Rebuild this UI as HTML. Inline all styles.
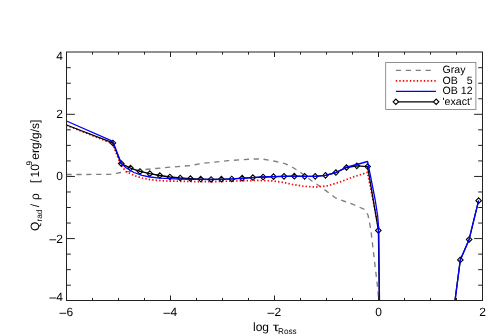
<!DOCTYPE html>
<html><head><meta charset="utf-8"><title>plot</title>
<style>
html,body{margin:0;padding:0;background:#fff;}
body{width:498px;height:336px;overflow:hidden;position:relative;font-family:"Liberation Sans",sans-serif;}
svg{position:absolute;left:0;top:0;display:block;}
text{text-rendering:geometricPrecision;}
text{font-family:"Liberation Sans",sans-serif;fill:#000;}
</style></head><body>
<svg width="498" height="336" viewBox="0 0 498 336" style="will-change:transform">
<rect x="0" y="0" width="498" height="336" fill="#fff"/>
<defs><clipPath id="c"><rect x="66.5" y="52" width="416" height="248.5"/></clipPath></defs>

<g clip-path="url(#c)" fill="none" stroke-linejoin="round">
<path d="M66.5,174.5 L110.0,174.4 L121.0,172.5 L130.0,171.3 L150.0,169.0 L170.0,167.2 L190.0,165.6 L204.0,163.1 L228.0,160.7 L252.0,159.0 L262.0,159.0 L276.0,161.5 L285.0,163.6 L292.0,167.0 L300.0,172.0 L304.0,175.0 L312.0,181.0 L321.0,187.0 L335.4,197.8 L345.0,201.5 L352.3,204.0 L364.6,209.5 L368.0,215.0 L370.7,228.8 L377.2,284.0 L378.8,300.6" stroke="#7f7f7f" stroke-width="1.35" stroke-dasharray="5.2 4.7"/>
<path d="M66.5,125.2 L112.6,143.7 L120.8,165.2 L126.0,171.4 L134.0,175.5 L142.0,178.0 L150.0,179.6 L160.0,180.6 L170.0,181.1 L180.0,181.3 L190.0,181.5 L211.0,181.7 L228.0,181.2 L242.6,180.8 L257.0,180.4 L271.6,180.8 L283.6,182.5 L292.0,184.3 L304.0,186.3 L316.0,187.1 L328.2,185.7 L340.2,181.9 L352.3,177.3 L366.0,172.9 L367.4,172.4 L379.1,230.0" stroke="#ff0000" stroke-width="1.7" stroke-dasharray="1.4 2.1"/>
<path d="M66.5,125.0 L112.9,142.9 L121.2,163.5 L130.5,168.1 L140.0,171.4 L149.8,173.7 L159.8,175.5 L169.9,177.0 L180.2,178.0 L190.4,178.6 L200.7,179.1 L211.1,179.4 L221.4,179.2 L231.8,178.9 L242.2,178.2 L252.8,177.6 L263.1,177.0 L273.5,176.7 L284.0,176.3 L294.3,176.2 L304.6,176.3 L315.2,176.3 L325.5,175.3 L335.9,172.6 L346.5,167.5 L356.8,165.8 L367.6,166.6 L378.4,230.4 L379.3,300.6" stroke="#000" stroke-width="1.3"/>
<path d="M455.0,300.6 L460.3,259.9 L469.1,239.4 L478.6,200.7" stroke="#000" stroke-width="1.3"/>
</g>
<g fill="none" stroke="#000" stroke-width="1.1">
<path d="M110.2,142.9 L112.9,140.2 L115.7,142.9 L112.9,145.7 Z"/>
<path d="M118.5,163.5 L121.2,160.8 L124.0,163.5 L121.2,166.2 Z"/>
<path d="M127.8,168.1 L130.5,165.3 L133.2,168.1 L130.5,170.8 Z"/>
<path d="M137.2,171.4 L140.0,168.7 L142.8,171.4 L140.0,174.2 Z"/>
<path d="M147.1,173.7 L149.8,170.9 L152.6,173.7 L149.8,176.4 Z"/>
<path d="M157.1,175.5 L159.8,172.8 L162.6,175.5 L159.8,178.2 Z"/>
<path d="M167.2,177.0 L169.9,174.2 L172.7,177.0 L169.9,179.8 Z"/>
<path d="M177.4,178.0 L180.2,175.2 L182.9,178.0 L180.2,180.8 Z"/>
<path d="M187.7,178.6 L190.4,175.8 L193.2,178.6 L190.4,181.3 Z"/>
<path d="M197.9,179.1 L200.7,176.3 L203.4,179.1 L200.7,181.8 Z"/>
<path d="M208.3,179.4 L211.1,176.7 L213.8,179.4 L211.1,182.2 Z"/>
<path d="M218.7,179.2 L221.4,176.4 L224.2,179.2 L221.4,181.9 Z"/>
<path d="M229.1,178.9 L231.8,176.2 L234.6,178.9 L231.8,181.7 Z"/>
<path d="M239.4,178.2 L242.2,175.4 L244.9,178.2 L242.2,180.9 Z"/>
<path d="M250.1,177.6 L252.8,174.8 L255.6,177.6 L252.8,180.3 Z"/>
<path d="M260.4,177.0 L263.1,174.2 L265.9,177.0 L263.1,179.8 Z"/>
<path d="M270.8,176.7 L273.5,173.9 L276.2,176.7 L273.5,179.4 Z"/>
<path d="M281.2,176.3 L284.0,173.6 L286.8,176.3 L284.0,179.1 Z"/>
<path d="M291.6,176.2 L294.3,173.4 L297.1,176.2 L294.3,178.9 Z"/>
<path d="M301.9,176.3 L304.6,173.6 L307.4,176.3 L304.6,179.1 Z"/>
<path d="M312.4,176.3 L315.2,173.6 L317.9,176.3 L315.2,179.1 Z"/>
<path d="M322.8,175.3 L325.5,172.6 L328.2,175.3 L325.5,178.1 Z"/>
<path d="M333.1,172.6 L335.9,169.8 L338.6,172.6 L335.9,175.3 Z"/>
<path d="M343.8,167.5 L346.5,164.8 L349.2,167.5 L346.5,170.2 Z"/>
<path d="M354.1,165.8 L356.8,163.1 L359.6,165.8 L356.8,168.6 Z"/>
<path d="M364.9,166.6 L367.6,163.8 L370.4,166.6 L367.6,169.3 Z"/>
<path d="M375.6,230.4 L378.4,227.7 L381.1,230.4 L378.4,233.2 Z"/>
<path d="M457.6,259.9 L460.3,257.1 L463.1,259.9 L460.3,262.6 Z"/>
<path d="M466.4,239.4 L469.1,236.7 L471.9,239.4 L469.1,242.2 Z"/>
<path d="M475.9,200.7 L478.6,197.9 L481.4,200.7 L478.6,203.4 Z"/>
</g>
<g clip-path="url(#c)" fill="none" stroke-linejoin="round">
<path d="M66.5,121.0 L112.9,141.4 L121.2,163.2 L126.0,167.7 L134.0,172.5 L142.0,175.4 L150.0,177.0 L160.0,178.1 L170.0,178.7 L180.0,179.1 L190.0,179.3 L200.7,179.4 L211.0,179.5 L221.0,179.3 L232.0,178.9 L242.0,178.3 L252.8,177.6 L263.1,177.0 L273.5,176.7 L284.0,176.3 L294.3,176.2 L304.6,176.3 L315.2,176.3 L325.5,175.3 L335.9,172.5 L346.5,167.2 L356.8,164.5 L367.6,161.5 L375.2,200.0 L377.7,216.0 L378.5,227.0 L378.8,233.0 L379.5,300.6" stroke="#0000ff" stroke-width="1.3"/>
<path d="M455.0,300.6 L460.3,259.9 L469.1,239.4 L478.6,200.7" stroke="#0000ff" stroke-width="1.3"/>
</g>
<g stroke="#222" stroke-width="1" fill="none">
<rect x="66.5" y="52.0" width="416.0" height="248.5"/>
<path d="M92.5,300.5 v-2.6 M92.5,52.0 v2.6"/>
<path d="M66.5,285.19 h4.3 M482.5,285.19 h-4.3"/>
<path d="M118.5,300.5 v-2.6 M118.5,52.0 v2.6"/>
<path d="M66.5,269.66 h4.3 M482.5,269.66 h-4.3"/>
<path d="M144.5,300.5 v-2.6 M144.5,52.0 v2.6"/>
<path d="M66.5,254.12 h4.3 M482.5,254.12 h-4.3"/>
<path d="M170.5,300.5 v-5.0 M170.5,52.0 v5.0"/>
<path d="M66.5,238.59 h8.4 M482.5,238.59 h-8.4"/>
<path d="M196.5,300.5 v-2.6 M196.5,52.0 v2.6"/>
<path d="M66.5,223.06 h4.3 M482.5,223.06 h-4.3"/>
<path d="M222.5,300.5 v-2.6 M222.5,52.0 v2.6"/>
<path d="M66.5,207.52 h4.3 M482.5,207.52 h-4.3"/>
<path d="M248.5,300.5 v-2.6 M248.5,52.0 v2.6"/>
<path d="M66.5,191.98 h4.3 M482.5,191.98 h-4.3"/>
<path d="M274.5,300.5 v-5.0 M274.5,52.0 v5.0"/>
<path d="M66.5,176.45 h8.4 M482.5,176.45 h-8.4"/>
<path d="M300.5,300.5 v-2.6 M300.5,52.0 v2.6"/>
<path d="M66.5,160.91 h4.3 M482.5,160.91 h-4.3"/>
<path d="M326.5,300.5 v-2.6 M326.5,52.0 v2.6"/>
<path d="M66.5,145.38 h4.3 M482.5,145.38 h-4.3"/>
<path d="M352.5,300.5 v-2.6 M352.5,52.0 v2.6"/>
<path d="M66.5,129.84 h4.3 M482.5,129.84 h-4.3"/>
<path d="M378.5,300.5 v-5.0 M378.5,52.0 v5.0"/>
<path d="M66.5,114.31 h8.4 M482.5,114.31 h-8.4"/>
<path d="M404.5,300.5 v-2.6 M404.5,52.0 v2.6"/>
<path d="M66.5,98.77 h4.3 M482.5,98.77 h-4.3"/>
<path d="M430.5,300.5 v-2.6 M430.5,52.0 v2.6"/>
<path d="M66.5,83.24 h4.3 M482.5,83.24 h-4.3"/>
<path d="M456.5,300.5 v-2.6 M456.5,52.0 v2.6"/>
<path d="M66.5,67.70 h4.3 M482.5,67.70 h-4.3"/>
</g>
<g font-size="12">
<text x="66.4" y="316.1">6</text><path d="M59.50,313.30 H66.20" stroke="#111" stroke-width="0.95" fill="none"/>
<text x="170.4" y="316.1">4</text><path d="M163.50,313.30 H170.20" stroke="#111" stroke-width="0.95" fill="none"/>
<text x="274.4" y="316.1">2</text><path d="M267.50,313.30 H274.20" stroke="#111" stroke-width="0.95" fill="none"/>
<text x="378.5" y="316.1" text-anchor="middle">0</text>
<text x="482.5" y="316.1" text-anchor="middle">2</text>
<text x="63.0" y="59.6" text-anchor="end">4</text>
<text x="63.0" y="118.3" text-anchor="end">2</text>
<text x="63.0" y="180.4" text-anchor="end">0</text>
<text x="63.0" y="242.6" text-anchor="end">2</text>
<path d="M49.43,239.79 H56.13" stroke="#111" stroke-width="0.95" fill="none"/>
<text x="63.0" y="300.8" text-anchor="end">4</text>
<path d="M49.43,298.03 H56.13" stroke="#111" stroke-width="0.95" fill="none"/>
</g>
<text x="253" y="330.5" font-size="12">log</text>
<text transform="translate(272.7,330.5) scale(1.3,1)" font-size="12">τ</text>
<text x="278.0" y="333.6" font-size="8.2">Ross</text>
<text transform="translate(38.8,231.1) rotate(-90)" font-size="12" xml:space="preserve">Q</text>
<text transform="translate(41.9,221.5) rotate(-90)" font-size="8.2" xml:space="preserve">rad</text>
<text transform="translate(38.9,207.2) rotate(-90)" font-size="12" xml:space="preserve">/</text>
<text transform="translate(38.9,200.0) rotate(-90)" font-size="12" xml:space="preserve">ρ</text>
<text transform="translate(38.9,183.1) rotate(-90)" font-size="12" xml:space="preserve">[</text>
<text transform="translate(38.9,177.5) rotate(-90)" font-size="12" xml:space="preserve">10</text>
<text transform="translate(32.3,165.4) rotate(-90)" font-size="8.2" xml:space="preserve">9</text>
<text transform="translate(38.9,159.7) rotate(-90)" font-size="12" xml:space="preserve">erg/g/s]</text>
<rect x="385.7" y="62.45" width="90.2" height="47.1" fill="#fff" stroke="#777" stroke-width="0.8"/>
<path d="M395.9,70.4 H435.5" stroke="#7f7f7f" stroke-width="1.35" stroke-dasharray="5.2 4.7" fill="none"/>
<path d="M395.8,80.95 H436" stroke="#ff0000" stroke-width="1.7" stroke-dasharray="1.4 2.1" fill="none"/>
<path d="M395.9,91.3 H435.9" stroke="#0000ff" stroke-width="1.3" fill="none"/>
<path d="M395.9,101.8 H435.9" stroke="#000" stroke-width="1.3" fill="none"/>
<g fill="#fff" stroke="#000" stroke-width="1.1"><path d="M393.1,101.8 L395.8,99.0 L398.6,101.8 L395.8,104.5 Z"/><path d="M433.4,101.8 L436.2,99.0 L438.9,101.8 L436.2,104.5 Z"/></g>
<g font-size="10.6">
<text x="442.6" y="73.2">Gray</text>
<text x="442.6" y="83.75" xml:space="preserve">OB   5</text>
<text x="442.6" y="94.4">OB 12</text>
<text x="442.6" y="105.0">'exact'</text>
</g>
</svg></body></html>
